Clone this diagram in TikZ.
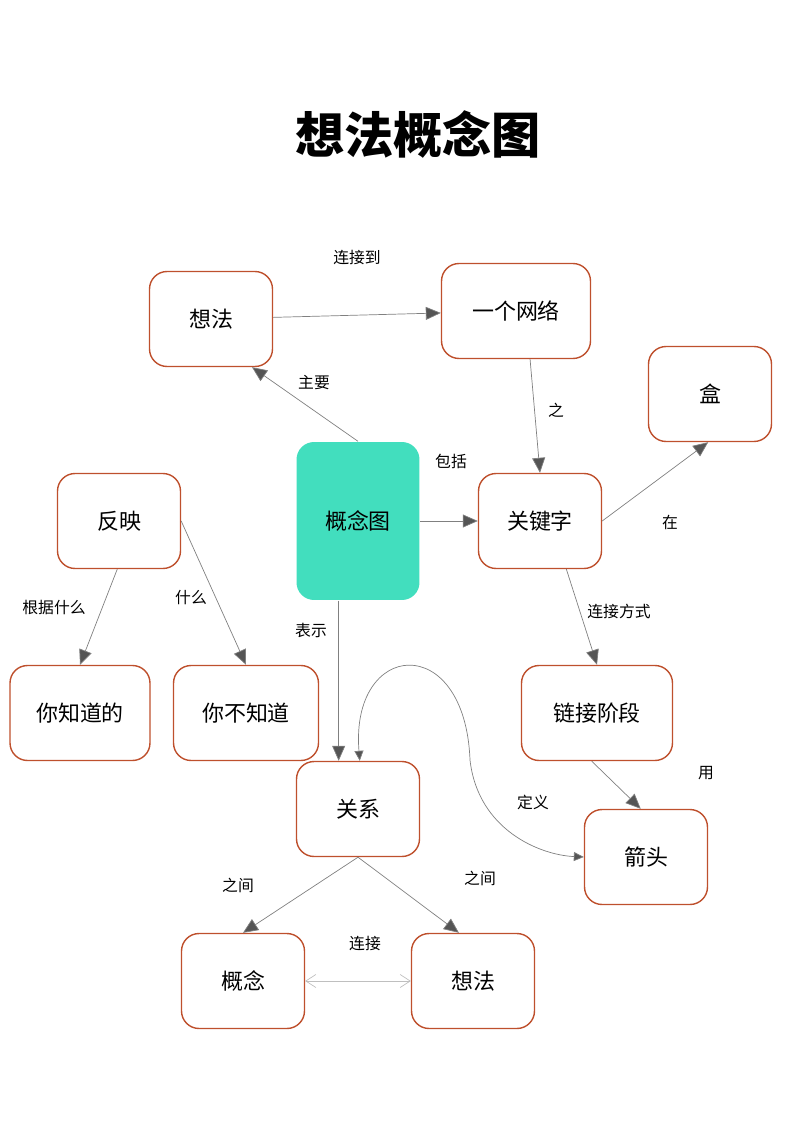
\documentclass[tikz,border=0pt]{standalone}
\usepackage{fontspec}
\newfontfamily\cjk{Noto Sans CJK SC}
\usetikzlibrary{arrows.meta}
\definecolor{boxline}{RGB}{190,80,45}
\definecolor{mapteal}{RGB}{66,222,190}
\definecolor{arrowgray}{RGB}{85,85,85}

\begin{document}
\begin{tikzpicture}[
    x=0.02cm, y=-0.02cm,
    % GLOBAL CFG
    font=\cjk,
    % Styles
    box/.style={% For the concept boxes
        rectangle,
        rounded corners=3.5mm,
        draw=boxline,
        thick,
        minimum width=2.46cm,
        minimum height=1.9cm,
        font=\cjk\fontsize{12.5}{14}\selectfont,
        },
    center/.style={% For the main concept
        box,
        draw=none,
        fill=mapteal,
        minimum height=3.16cm,
        },
    tag/.style={% For the link labels
        font=\cjk\fontsize{9}{11}\selectfont,
        },
    link/.style={% Arrows between boxes
        draw=gray,
        -{Triangle[length=3mm,width=2.6mm,fill=arrowgray]},
        },
    ]

    \useasboundingbox (0,0) rectangle (800,1131);

    % Title
    \node[font=\cjk\bfseries\fontsize{28}{32}\selectfont] (title) at (418,135) {想法概念图};

    % Draw the boxes
    \node[box] (idea) at (211,319) {想法};
    \node[box, minimum width=2.98cm] (network) at (516,311) {一个网络};
    \node[box] (boxes) at (710,394) {盒};
    \node[center] (cmap) at (358,521) {概念图};
    \node[box] (keyword) at (540,521) {关键字};
    \node[box] (reflect) at (119,521) {反映};
    \node[box, minimum width=2.8cm] (know) at (80,713) {你知道的};
    \node[box, minimum width=2.9cm] (unknown) at (246,713) {你不知道};
    \node[box, minimum width=3.02cm] (stage) at (597,713) {链接阶段};
    \node[box] (relation) at (358,809) {关系};
    \node[box] (arrow) at (646,857) {箭头};
    \node[box] (concept) at (243,981) {概念};
    \node[box] (idea2) at (473,981) {想法};

    % Drawing arrows
    \draw[link] (idea) -- (network);
    \draw[link] (cmap.north) -- ([xshift=0.82cm]idea.south);
    \draw[link] ([xshift=8pt]network.south) -- (keyword.north);
    \draw[link] (cmap) -- (keyword);
    \draw[link] (keyword.east) -- ([xshift=-1.28cm]boxes.south east);
    \draw[link] ([xshift=-1pt]reflect.south) -- (know.north);
    \draw[link] (reflect.east) -- (unknown.north);
    \draw[link] ([xshift=-11pt]cmap.south) -- ([xshift=-11pt]relation.north);
    \draw[link] ([xshift=15pt]keyword.south) -- (stage.north);
    \draw[link] ([xshift=-3pt]stage.south) -- ([xshift=-3pt]arrow.north);
    \draw[link] (relation.south) -- (concept.north);
    \draw[link] (relation.south) -- ([xshift=-8pt]idea2.north);
    \draw[draw=gray, {Triangle[length=2mm,width=1.8mm,fill=arrowgray]}-{Triangle[length=2mm,width=1.8mm,fill=arrowgray]}]
        ([xshift=1pt]relation.north) .. controls (350,640) and (465,630) .. (470,760)
        .. controls (478,830) and (540,855) .. (arrow.west);
    \draw[draw=lightgray, {Straight Barb[length=2mm,width=2.6mm,lightgray]}-{Straight Barb[length=2mm,width=2.6mm,lightgray]}]
        (concept) -- (idea2);

    % Link labels
    \node[tag] (l1) at (357,258) {连接到};
    \node[tag] (l2) at (314,383) {主要};
    \node[tag] (l3) at (556,410) {之};
    \node[tag] (l4) at (451,461) {包括};
    \node[tag] (l5) at (670,522) {在};
    \node[tag] (l6) at (54,607) {根据什么};
    \node[tag] (l7) at (191,598) {什么};
    \node[tag] (l8) at (311,630) {表示};
    \node[tag] (l9) at (619,611) {连接方式};
    \node[tag] (l10) at (706,773) {用};
    \node[tag] (l11) at (533,802) {定义};
    \node[tag] (l12) at (238,885) {之间};
    \node[tag] (l13) at (480,878) {之间};
    \node[tag] (l14) at (365,943) {连接};

\end{tikzpicture}
\end{document}
